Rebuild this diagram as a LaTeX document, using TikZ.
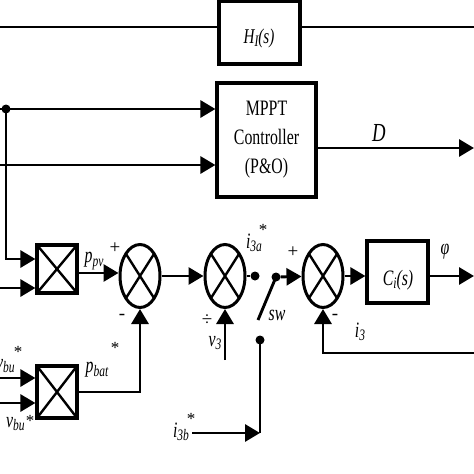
\documentclass[tikz,border=0pt]{standalone}
\usepackage{graphicx}
\usepackage{fontspec}
\setmainfont{Liberation Serif}
\usetikzlibrary{arrows.meta,shapes.geometric}
\newcommand\nr[1]{\scalebox{0.72}[1]{#1}}
\newcommand\sbs[1]{\raisebox{-0.35ex}{\fontsize{16}{17}\selectfont #1}}
\begin{document}
\begin{tikzpicture}[x=1pt,y=-1pt,
 ln/.style={line width=2.9pt},
 ar/.style={line width=2.9pt,-{Triangle[length=15pt,width=17pt]}},
 blk/.style={draw,line width=3.2pt,inner sep=0pt},
 xpic/.style={path picture={\draw[line width=2.4pt] (path picture bounding box.north west)--(path picture bounding box.south east) (path picture bounding box.north east)--(path picture bounding box.south west);}},
 sumj/.style={draw,ellipse,line width=3pt,minimum width=40pt,minimum height=63pt,inner sep=0pt,xpic},
 mul/.style={draw,rectangle,line width=3.2pt,minimum width=40pt,inner sep=0pt,xpic},
 dot/.style={circle,fill,inner sep=0pt,minimum size=9pt},
 lab/.style={font=\fontsize{22}{24}\selectfont\itshape,inner sep=0pt},
 sgn/.style={font=\fontsize{19}{20}\selectfont,inner sep=0pt},
 star/.style={font=\fontsize{17}{18}\selectfont,inner sep=0pt},
]
\useasboundingbox (0,0) rectangle (474,474);
% blocks
\node[blk,minimum width=81pt,minimum height=63pt] (h1) at (259.5,32.5) {};
\node[lab,font=\fontsize{21}{23}\selectfont\itshape] (h1t) at (259,38) {\nr{H\sbs{I}(s)}};
\node[blk,minimum width=99pt,minimum height=114pt,align=center,font=\fontsize{22}{29}\selectfont] (mppt) at (266.5,140) {\nr{MPPT}\\\nr{Controller}\\\nr{(P\&O)}};
\node[blk,minimum width=61pt,minimum height=62pt] (ci) at (397.5,272) {};
\node[lab] (cit) at (398,280) {\nr{C\sbs{i}(s)}};
\node[sumj] (e1) at (140,276) {};
\node[sumj] (e2) at (225,276) {};
\node[sumj] (e3) at (323,276) {};
\node[mul,minimum height=48pt] (m1) at (57,269) {};
\node[mul,minimum height=52pt] (m2) at (57,392) {};
\node[dot] (jd) at (6,109) {};
\node[dot] (sa) at (255,276) {};
\node[dot] (sb) at (276,277) {};
\node[dot] (sc) at (260,340) {};
% coordinates
\coordinate (tl) at (0,27);
\coordinate (tr) at (474,27);
\coordinate (in1) at (0,109);
\coordinate (in2) at (0,165);
\coordinate (dout) at (474,148);
\coordinate (c1) at (6,259);
\coordinate (in3) at (0,288);
\coordinate (p1) at (0,273);
\coordinate (swe) at (258,320);
\coordinate (c3b) at (260,433);
\coordinate (i3bs) at (192,433);
\coordinate (phio) at (474,276);
\coordinate (fb) at (474,353);
\coordinate (v3s) at (225,360);
\coordinate (in4) at (0,378);
\coordinate (in5) at (0,403);
% connectors
\draw[ln] (tl) -- (tl -| h1.west);
\draw[ln] (h1.east |- tr) -- (tr);
\draw[ar] (in1) -- (in1 -| mppt.west);
\draw[ar] (in2) -- (in2 -| mppt.west);
\draw[ar] (mppt.east |- dout) -- (dout);
\draw[ar] (jd.center) -- (c1) -- (c1 -| m1.west);
\draw[ar] (in3) -- (in3 -| m1.west);
\draw[ar] (p1 -| m1.east) -- (p1 -| e1.west);
\draw[ar] (e1) -- (e2);
\draw[ln] (e2) -- (sa);
\draw[ln] (sb.center) -- (swe);
\draw[ar] (sb) -- (e3);
\draw[ar] (i3bs) -- (c3b);
\draw[ln] (c3b) -- (sc.center);
\draw[ar] (e3.east) -- (e3.east -| ci.west);
\draw[ar] (ci.east |- phio) -- (phio);
\draw[ar] (fb) -- (fb -| e3.south) -- (e3.south);
\draw[ar] (v3s) -- (e2.south);
\draw[ar] (m2.east) -- (m2.east -| e1.south) -- (e1.south);
\draw[ar] (in4) -- (in4 -| m2.west);
\draw[ar] (in5) -- (in5 -| m2.west);
% labels
\node[lab,font=\fontsize{26}{28}\selectfont\itshape] (lD) at (379,133) {\nr{D}};
\node[lab] (lppv) at (94,261) {\nr{p\sbs{pv}}};
\node[sgn] (pl1) at (115,248) {+};
\node[sgn] (mi1) at (122,317) {-};
\node[lab] (lpbat) at (97,370) {\nr{p\sbs{bat}}};
\node[star] (st1) at (115,348) {*};
\node[lab,anchor=west] (lvbu1) at (-4,366) {\nr{v\sbs{bu}}};
\node[star] (st2) at (18,352) {*};
\node[lab,anchor=west] (lvbu2) at (6,424) {\nr{v\sbs{bu}}};
\node[star] (st3) at (30,421) {*};
\node[lab] (li3a) at (254,243) {\nr{i\sbs{3a}}};
\node[star] (st4) at (263,230) {*};
\node[lab] (li3b) at (181,432) {\nr{i\sbs{3b}}};
\node[star] (st5) at (191,419) {*};
\node[lab] (lsw) at (277,315) {\nr{sw}};
\node[sgn] (dv) at (207,320) {÷};
\node[lab] (lv3) at (215,343) {\nr{v\sbs{3}}};
\node[lab] (li3) at (360,332) {\nr{i\sbs{3}}};
\node[sgn] (mi3) at (335,317) {-};
\node[sgn] (pl3) at (293,252) {+};
\node[lab] (lphi) at (445,252) {\nr{φ}};
\end{tikzpicture}
\end{document}
